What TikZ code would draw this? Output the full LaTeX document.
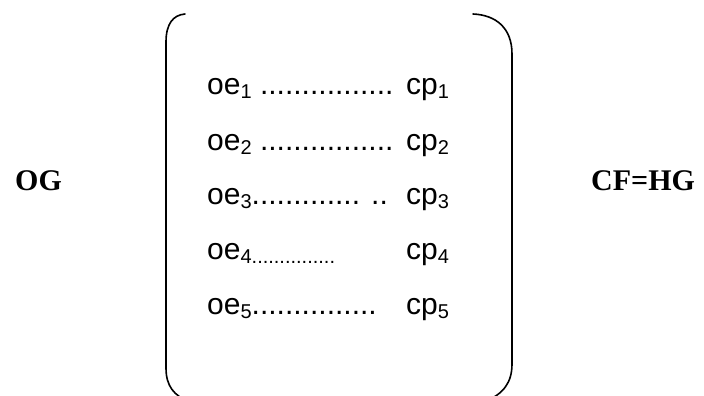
\documentclass[tikz,border=0pt]{standalone}
\usepackage{fontspec}
\setmainfont{Liberation Serif}
\newfontfamily\arialf{Liberation Sans}
\newcommand\sbs[1]{\raisebox{-0.14em}{\fontsize{20}{20}\selectfont #1}}
\begin{document}
\begin{tikzpicture}[x=1pt,y=-1pt,
  txt/.style={inner sep=0pt,anchor=base west,font=\arialf\fontsize{30}{30}\selectfont},
  lbl/.style={inner sep=0pt,anchor=base west,font=\bfseries\fontsize{30}{30}\selectfont},
  brk/.style={line width=1.6pt,line cap=round}]
\useasboundingbox (0,0) rectangle (704,396);
\begin{scope}
\clip (0,0) rectangle (704,396);
\draw[brk] (185,14) .. controls (173,15) and (166,24) .. (166,42) -- (166,368) .. controls (166,386) and (174,396) .. (190,402);
\draw[brk] (473,14) .. controls (496,15) and (512,28) .. (512,54) -- (512,364) .. controls (512,382) and (504,394) .. (484,402);
\end{scope}
\node[lbl] (og) at (15,190) {OG};
\node[lbl] (cf) at (591,190) {CF=HG};
\node[txt] (l1) at (207,94) {oe\sbs{1} ................};
\node[txt] (r1) at (406,94) {cp\sbs{1}};
\node[txt] (l2) at (207,150) {oe\sbs{2} ................};
\node[txt] (r2) at (406,150) {cp\sbs{2}};
\node[txt] (l3) at (207,204) {oe\sbs{3}............. ..};
\node[txt] (r3) at (406,204) {cp\sbs{3}};
\node[txt] (l4) at (207,259) {oe\sbs{4...............}};
\node[txt] (r4) at (406,259) {cp\sbs{4}};
\node[txt] (l5) at (207,314) {oe\sbs{5}...............};
\node[txt] (r5) at (406,314) {cp\sbs{5}};
\end{tikzpicture}
\end{document}
